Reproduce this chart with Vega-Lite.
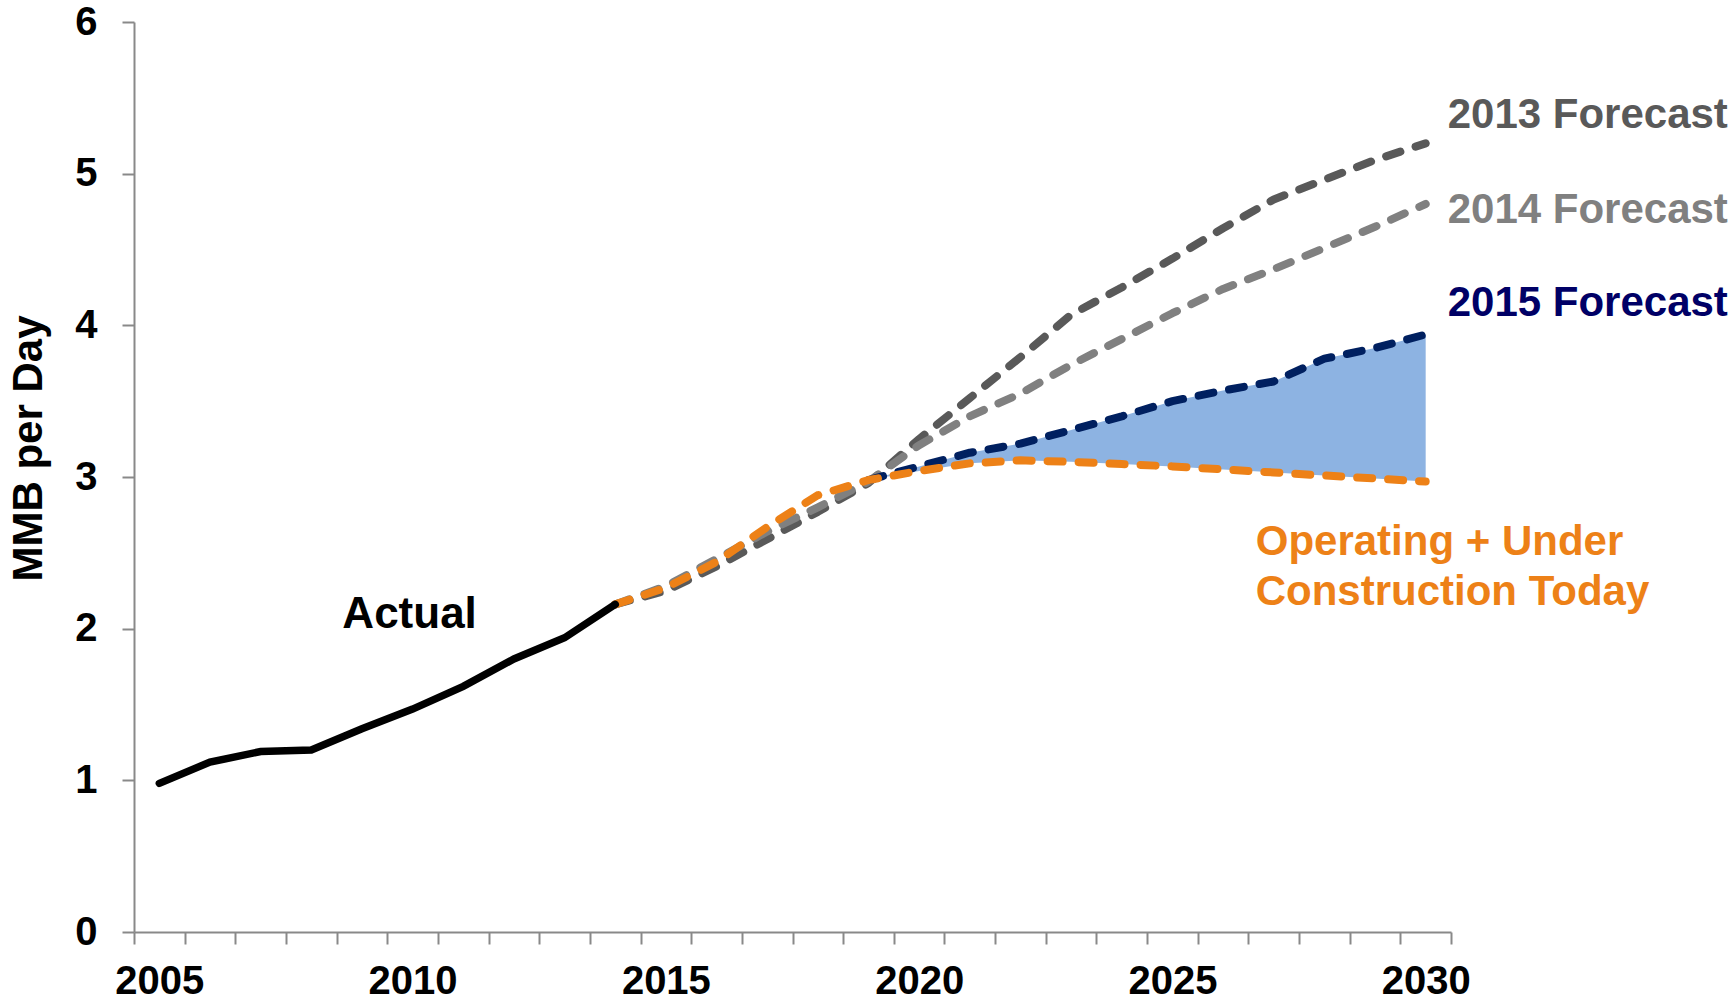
{
  "$schema": "https://vega.github.io/schema/vega-lite/v6.json",
  "width": 1317,
  "height": 910,
  "autosize": {"type": "none"},
  "padding": {"left": 134, "top": 22, "right": 285, "bottom": 73},
  "background": "white",
  "config": {
    "view": {"stroke": null},
    "font": "Liberation Sans",
    "axis": {
      "grid": false,
      "domainColor": "#898989",
      "domainWidth": 2,
      "tickColor": "#898989",
      "tickWidth": 2,
      "tickSize": 12,
      "labelFont": "Liberation Sans",
      "labelFontWeight": "bold",
      "labelColor": "#000000",
      "labelFontSize": 40,
      "titleFont": "Liberation Sans",
      "titleFontWeight": "bold",
      "titleColor": "#000000",
      "titleFontSize": 42
    }
  },
  "datasets": {
    "series": [
      {"series": "actual", "year": 2005, "value": 0.98},
      {"series": "actual", "year": 2006, "value": 1.12},
      {"series": "actual", "year": 2007, "value": 1.19},
      {"series": "actual", "year": 2008, "value": 1.20},
      {"series": "actual", "year": 2009, "value": 1.34},
      {"series": "actual", "year": 2010, "value": 1.47},
      {"series": "actual", "year": 2011, "value": 1.62},
      {"series": "actual", "year": 2012, "value": 1.80},
      {"series": "actual", "year": 2013, "value": 1.94},
      {"series": "actual", "year": 2014, "value": 2.16},

      {"series": "f2013", "year": 2014, "value": 2.16},
      {"series": "f2013", "year": 2015, "value": 2.25},
      {"series": "f2013", "year": 2016, "value": 2.41},
      {"series": "f2013", "year": 2017, "value": 2.59},
      {"series": "f2013", "year": 2018, "value": 2.77},
      {"series": "f2013", "year": 2019, "value": 2.96},
      {"series": "f2013", "year": 2020, "value": 3.25},
      {"series": "f2013", "year": 2021, "value": 3.52},
      {"series": "f2013", "year": 2022, "value": 3.79},
      {"series": "f2013", "year": 2023, "value": 4.07},
      {"series": "f2013", "year": 2024, "value": 4.25},
      {"series": "f2013", "year": 2025, "value": 4.44},
      {"series": "f2013", "year": 2026, "value": 4.64},
      {"series": "f2013", "year": 2027, "value": 4.83},
      {"series": "f2013", "year": 2028, "value": 4.96},
      {"series": "f2013", "year": 2029, "value": 5.09},
      {"series": "f2013", "year": 2030, "value": 5.20},

      {"series": "f2014", "year": 2014, "value": 2.16},
      {"series": "f2014", "year": 2015, "value": 2.28},
      {"series": "f2014", "year": 2016, "value": 2.46},
      {"series": "f2014", "year": 2017, "value": 2.64},
      {"series": "f2014", "year": 2018, "value": 2.80},
      {"series": "f2014", "year": 2019, "value": 2.97},
      {"series": "f2014", "year": 2020, "value": 3.21},
      {"series": "f2014", "year": 2021, "value": 3.40},
      {"series": "f2014", "year": 2022, "value": 3.55},
      {"series": "f2014", "year": 2023, "value": 3.74},
      {"series": "f2014", "year": 2024, "value": 3.91},
      {"series": "f2014", "year": 2025, "value": 4.08},
      {"series": "f2014", "year": 2026, "value": 4.24},
      {"series": "f2014", "year": 2027, "value": 4.37},
      {"series": "f2014", "year": 2028, "value": 4.51},
      {"series": "f2014", "year": 2029, "value": 4.65},
      {"series": "f2014", "year": 2030, "value": 4.80},

      {"series": "f2015", "year": 2019, "value": 2.98},
      {"series": "f2015", "year": 2020, "value": 3.07},
      {"series": "f2015", "year": 2021, "value": 3.16},
      {"series": "f2015", "year": 2022, "value": 3.22},
      {"series": "f2015", "year": 2023, "value": 3.31},
      {"series": "f2015", "year": 2024, "value": 3.40},
      {"series": "f2015", "year": 2025, "value": 3.50},
      {"series": "f2015", "year": 2026, "value": 3.57},
      {"series": "f2015", "year": 2027, "value": 3.63},
      {"series": "f2015", "year": 2028, "value": 3.78},
      {"series": "f2015", "year": 2029, "value": 3.85},
      {"series": "f2015", "year": 2030, "value": 3.94},

      {"series": "operating", "year": 2014, "value": 2.16},
      {"series": "operating", "year": 2015, "value": 2.27},
      {"series": "operating", "year": 2016, "value": 2.44},
      {"series": "operating", "year": 2017, "value": 2.67},
      {"series": "operating", "year": 2018, "value": 2.88},
      {"series": "operating", "year": 2019, "value": 2.98},
      {"series": "operating", "year": 2020, "value": 3.04},
      {"series": "operating", "year": 2021, "value": 3.09},
      {"series": "operating", "year": 2022, "value": 3.11},
      {"series": "operating", "year": 2023, "value": 3.10},
      {"series": "operating", "year": 2024, "value": 3.085},
      {"series": "operating", "year": 2025, "value": 3.07},
      {"series": "operating", "year": 2026, "value": 3.05},
      {"series": "operating", "year": 2027, "value": 3.03},
      {"series": "operating", "year": 2028, "value": 3.01},
      {"series": "operating", "year": 2029, "value": 2.99},
      {"series": "operating", "year": 2030, "value": 2.97}
    ]
  },
  "encoding": {
    "x": {
      "field": "year",
      "type": "ordinal",
      "bandPosition": 0.5,
      "scale": {
        "type": "band",
        "paddingInner": 0,
        "paddingOuter": 0,
        "domain": [2005, 2006, 2007, 2008, 2009, 2010, 2011, 2012, 2013, 2014, 2015, 2016, 2017, 2018, 2019, 2020, 2021, 2022, 2023, 2024, 2025, 2026, 2027, 2028, 2029, 2030]
      },
      "axis": {
        "title": null,
        "tickBand": "extent",
        "labelAngle": 0,
        "labelOverlap": false,
        "labelBound": false,
        "labelFlush": false,
        "labelPadding": 17,
        "labelExpr": "datum.value % 5 === 0 ? datum.label : ''"
      }
    }
  },
  "layer": [
    {
      "data": {"name": "series"},
      "transform": [
        {"filter": "(datum.series === 'f2015' || datum.series === 'operating') && datum.year >= 2019"},
        {"pivot": "series", "value": "value", "groupby": ["year"]}
      ],
      "mark": {"type": "area", "color": "#8DB3E2", "opacity": 1},
      "encoding": {
        "y": {
          "field": "f2015",
          "type": "quantitative",
          "title": "MMB per Day",
          "scale": {"domain": [0, 6], "nice": false},
          "axis": {
            "title": "MMB per Day",
            "values": [0, 1, 2, 3, 4, 5, 6],
            "format": "d",
            "labelPadding": 25,
            "titleX": -106,
            "titleY": 426,
            "titleAlign": "center",
            "titleBaseline": "middle",
            "titleAngle": -90
          }
        },
        "y2": {"field": "operating"}
      }
    },
    {
      "data": {"name": "series"},
      "transform": [{"filter": "datum.series === 'f2013'"}],
      "mark": {"type": "line", "color": "#595959", "strokeWidth": 8, "strokeDash": [15, 16], "strokeCap": "round", "strokeJoin": "round"},
      "encoding": {"y": {"field": "value", "type": "quantitative", "title": "MMB per Day"}}
    },
    {
      "data": {"name": "series"},
      "transform": [{"filter": "datum.series === 'f2014'"}],
      "mark": {"type": "line", "color": "#808080", "strokeWidth": 8, "strokeDash": [15, 16], "strokeCap": "round", "strokeJoin": "round"},
      "encoding": {"y": {"field": "value", "type": "quantitative", "title": "MMB per Day"}}
    },
    {
      "data": {"name": "series"},
      "transform": [{"filter": "datum.series === 'f2015'"}],
      "mark": {"type": "line", "color": "#002060", "strokeWidth": 8, "strokeDash": [15, 16], "strokeCap": "round", "strokeJoin": "round"},
      "encoding": {"y": {"field": "value", "type": "quantitative", "title": "MMB per Day"}}
    },
    {
      "data": {"name": "series"},
      "transform": [{"filter": "datum.series === 'operating'"}],
      "mark": {"type": "line", "color": "#ED8117", "strokeWidth": 8, "strokeDash": [15, 16], "strokeCap": "round", "strokeJoin": "round"},
      "encoding": {"y": {"field": "value", "type": "quantitative", "title": "MMB per Day"}}
    },
    {
      "data": {"name": "series"},
      "transform": [{"filter": "datum.series === 'actual'"}],
      "mark": {"type": "line", "color": "#000000", "strokeWidth": 7.5, "strokeCap": "round", "strokeJoin": "miter"},
      "encoding": {"y": {"field": "value", "type": "quantitative", "title": "MMB per Day"}}
    },
    {
      "data": {"values": [{"year": 2010, "value": 2.09, "label": "Actual"}]},
      "mark": {"type": "text", "align": "center", "baseline": "middle", "fontSize": 44, "fontWeight": "bold", "color": "#000000", "dx": -3},
      "encoding": {"y": {"field": "value", "type": "quantitative", "title": "MMB per Day"}, "text": {"field": "label"}}
    },
    {
      "data": {"values": [{"year": 2030, "value": 5.386, "label": "2013 Forecast"}]},
      "mark": {"type": "text", "align": "left", "baseline": "middle", "fontSize": 42, "fontWeight": "bold", "color": "#595959", "dx": 22},
      "encoding": {"y": {"field": "value", "type": "quantitative", "title": "MMB per Day"}, "text": {"field": "label"}}
    },
    {
      "data": {"values": [{"year": 2030, "value": 4.76, "label": "2014 Forecast"}]},
      "mark": {"type": "text", "align": "left", "baseline": "middle", "fontSize": 42, "fontWeight": "bold", "color": "#808080", "dx": 22},
      "encoding": {"y": {"field": "value", "type": "quantitative", "title": "MMB per Day"}, "text": {"field": "label"}}
    },
    {
      "data": {"values": [{"year": 2030, "value": 4.15, "label": "2015 Forecast"}]},
      "mark": {"type": "text", "align": "left", "baseline": "middle", "fontSize": 42, "fontWeight": "bold", "color": "#000066", "dx": 22},
      "encoding": {"y": {"field": "value", "type": "quantitative", "title": "MMB per Day"}, "text": {"field": "label"}}
    },
    {
      "data": {"values": [
        {"year": 2027, "value": 2.57, "label": "Operating + Under"},
        {"year": 2027, "value": 2.24, "label": "Construction Today"}
      ]},
      "mark": {"type": "text", "align": "left", "baseline": "middle", "fontSize": 42, "fontWeight": "bold", "color": "#ED8117", "dx": -18},
      "encoding": {"y": {"field": "value", "type": "quantitative", "title": "MMB per Day"}, "text": {"field": "label"}}
    }
  ]
}
